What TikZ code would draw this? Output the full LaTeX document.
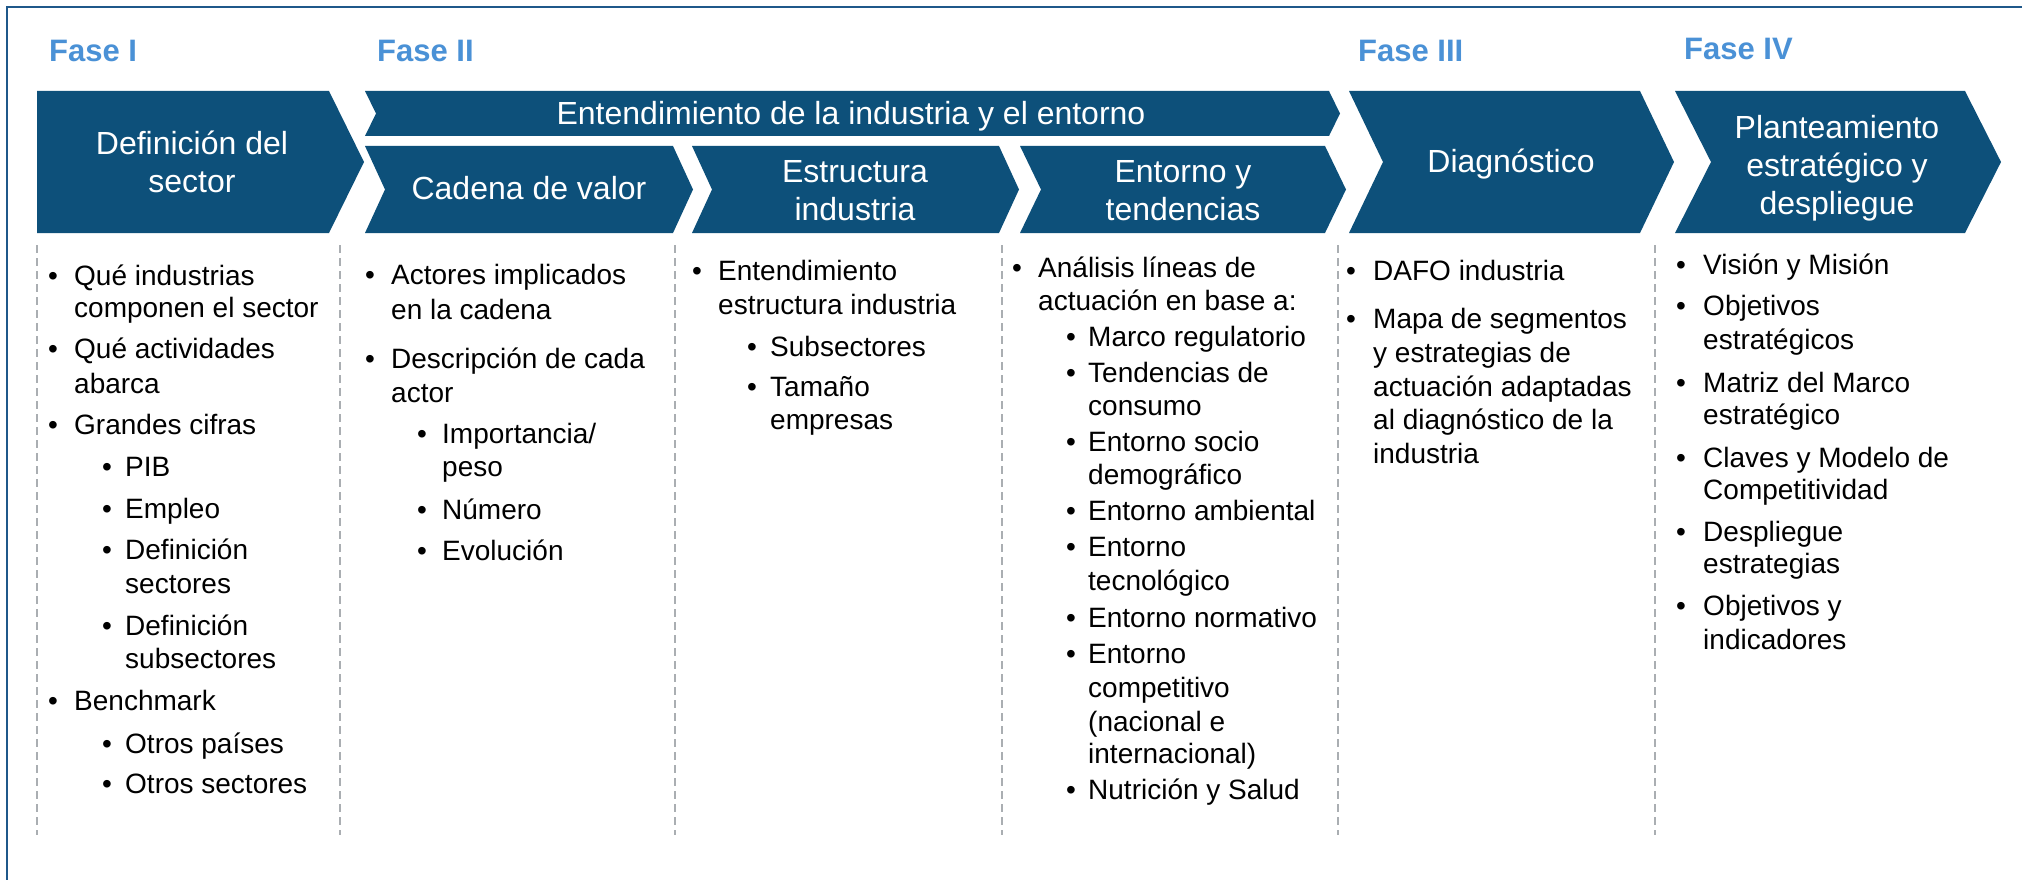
\documentclass[tikz,border=0pt]{standalone}
\usepackage{fontspec}
\setmainfont{Liberation Sans}
\definecolor{chev}{RGB}{13,80,122}
\definecolor{fasecol}{RGB}{74,145,214}
\definecolor{framecol}{RGB}{31,88,138}
\definecolor{dashcol}{RGB}{170,174,178}
\newcommand{\chevshape}[5]{%
  \fill[chev] (#1,#3) -- (#2,#3) -- ({#2+#5},{(#3+#4)/2}) -- (#2,#4) -- (#1,#4) -- ({#1+#5},{(#3+#4)/2}) -- cycle;}
\newcommand{\bul}[5]{%
  \node[body,anchor=base] (#1b) at (#2,#4) {•};
  \node[body,anchor=base west] (#1) at (#3,#4) {#5};}
\newcommand{\cont}[4]{\node[body,anchor=base west] (#1) at (#2,#3) {#4};}
\begin{document}
\begin{tikzpicture}[x=1pt,y=-1pt,
  body/.style={inner sep=0pt,font=\fontsize{28}{33}\selectfont,text=black},
  chevtext/.style={inner sep=0pt,text=white,align=center,font=\fontsize{32}{38}\selectfont},
  fase/.style={inner sep=0pt,text=fasecol,font=\fontsize{31}{37}\selectfont\bfseries},
  dashline/.style={draw=dashcol,line width=1.5pt,dash pattern=on 8pt off 5pt},
  frameline/.style={draw=framecol,line width=2.5pt}]
\useasboundingbox (0,0) rectangle (2022,880);
\fill[white] (0,0) rectangle (2022,880);
% frame
\draw[frameline] (7,880) -- (7,7) -- (2022,7);
% phase titles
\node[fase,anchor=base west] (f1) at (49,62) {Fase I};
\node[fase,anchor=base west] (f2) at (377,62) {Fase II};
\node[fase,anchor=base west] (f3) at (1358,62) {Fase III};
\node[fase,anchor=base west] (f4) at (1684,60) {Fase IV};
% chevrons
\fill[chev] (37,91) -- (329,91) -- (364,162) -- (329,233) -- (37,233) -- cycle;
\chevshape{365}{1329}{91}{136}{11}
\chevshape{365}{673}{146}{233}{20}
\chevshape{692}{999}{146}{233}{20}
\chevshape{1020}{1325}{146}{233}{21}
\chevshape{1349}{1640}{91}{233}{34}
\chevshape{1675}{1965}{91}{233}{36}
\node[chevtext] (p1) at (192,162) {Definición del\\sector};
\node[chevtext,anchor=base] (bar) at (851,125) {Entendimiento de la industria y el entorno};
\node[chevtext,anchor=base] (cv) at (529,200) {Cadena de valor};
\node[chevtext] (ei) at (855,191) {Estructura\\industria};
\node[chevtext] (et) at (1183,191) {Entorno y\\tendencias};
\node[chevtext,anchor=base] (dg) at (1511,173) {Diagnóstico};
\node[chevtext] (pe) at (1837,168) {Planteamiento\\estratégico y\\despliegue};
% dashed separators
\foreach \x in {37,340,675,1002,1338,1655}
  \draw[dashline] (\x,245) -- (\x,835);
% column 1
\bul{a1}{53}{74}{285}{Qué industrias}
\cont{a2}{74}{317}{componen el sector}
\bul{a3}{53}{74}{358}{Qué actividades}
\cont{a4}{74}{393}{abarca}
\bul{a5}{53}{74}{434}{Grandes cifras}
\bul{a6}{107}{125}{476}{PIB}
\bul{a7}{107}{125}{518}{Empleo}
\bul{a8}{107}{125}{559}{Definición}
\cont{a9}{125}{593}{sectores}
\bul{a10}{107}{125}{635}{Definición}
\cont{a11}{125}{668}{subsectores}
\bul{a12}{53}{74}{710}{Benchmark}
\bul{a13}{107}{125}{753}{Otros países}
\bul{a14}{107}{125}{793}{Otros sectores}
% column 2
\bul{b1}{370}{391}{284}{Actores implicados}
\cont{b2}{391}{319}{en la cadena}
\bul{b3}{370}{391}{368}{Descripción de cada}
\cont{b4}{391}{402}{actor}
\bul{b5}{422}{442}{443}{Importancia/}
\cont{b6}{442}{476}{peso}
\bul{b7}{422}{442}{519}{Número}
\bul{b8}{422}{442}{560}{Evolución}
% column 3
\bul{c1}{697}{718}{280}{Entendimiento}
\cont{c2}{718}{314}{estructura industria}
\bul{c3}{752}{770}{356}{Subsectores}
\bul{c4}{752}{770}{396}{Tamaño}
\cont{c5}{770}{429}{empresas}
% column 4
\bul{d1}{1017}{1038}{277}{Análisis líneas de}
\cont{d2}{1038}{310}{actuación en base a:}
\bul{d3}{1071}{1088}{346}{Marco regulatorio}
\bul{d4}{1071}{1088}{382}{Tendencias de}
\cont{d5}{1088}{415}{consumo}
\bul{d6}{1071}{1088}{451}{Entorno socio}
\cont{d7}{1088}{484}{demográfico}
\bul{d8}{1071}{1088}{520}{Entorno ambiental}
\bul{d9}{1071}{1088}{556}{Entorno}
\cont{d10}{1088}{590}{tecnológico}
\bul{d11}{1071}{1088}{627}{Entorno normativo}
\bul{d12}{1071}{1088}{663}{Entorno}
\cont{d13}{1088}{697}{competitivo}
\cont{d14}{1088}{731}{(nacional e}
\cont{d15}{1088}{763}{internacional)}
\bul{d16}{1071}{1088}{799}{Nutrición y Salud}
% column 5
\bul{e1}{1351}{1373}{280}{DAFO industria}
\bul{e2}{1351}{1373}{328}{Mapa de segmentos}
\cont{e3}{1373}{362}{y estrategias de}
\cont{e4}{1373}{396}{actuación adaptadas}
\cont{e5}{1373}{429}{al diagnóstico de la}
\cont{e6}{1373}{463}{industria}
% column 6
\bul{g1}{1681}{1703}{274}{Visión y Misión}
\bul{g2}{1681}{1703}{315}{Objetivos}
\cont{g3}{1703}{349}{estratégicos}
\bul{g4}{1681}{1703}{392}{Matriz del Marco}
\cont{g5}{1703}{424}{estratégico}
\bul{g6}{1681}{1703}{467}{Claves y Modelo de}
\cont{g7}{1703}{499}{Competitividad}
\bul{g8}{1681}{1703}{541}{Despliegue}
\cont{g9}{1703}{573}{estrategias}
\bul{g10}{1681}{1703}{615}{Objetivos y}
\cont{g11}{1703}{649}{indicadores}
\end{tikzpicture}
\end{document}
